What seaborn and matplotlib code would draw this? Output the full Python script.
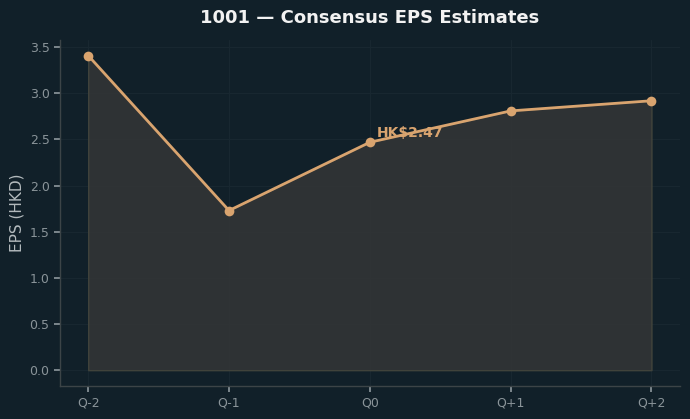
import matplotlib
matplotlib.use("Agg")
import matplotlib.pyplot as plt
import seaborn as sns
import pandas as pd

quarters = ["Q-2", "Q-1", "Q0", "Q+1", "Q+2"]
eps = [3.41, 1.73, 2.47, 2.81, 2.92]
title = "1001 — Consensus EPS Estimates"
ylabel = "EPS (HKD)"
current_label = "HK$2.47"

bg = "#112029"
line_c = "#d9a46f"

sns.set_theme(style="dark")
plt.rcParams['font.family'] = ['DejaVu Sans']

df = pd.DataFrame({"q": range(len(quarters)), "eps": eps})

fig = plt.figure(figsize=(6.9, 4.19), dpi=100, facecolor=bg)
ax = fig.add_axes([0.087, 0.079, 0.898, 0.826])
ax.set_facecolor(bg)

ax.fill_between(df["q"], df["eps"], 0, color="#343636", alpha=0.85,
                edgecolor="#45473d", linewidth=1.0)
sns.lineplot(data=df, x="q", y="eps", ax=ax, color=line_c, linewidth=2,
             marker="o", markersize=7, markeredgewidth=0)

ax.annotate(current_label, (2, eps[2]), xytext=(5, 4), textcoords="offset points",
            color=line_c, fontsize=10, fontweight="bold")

ax.set_xticks(range(len(quarters)))
ax.set_xticklabels(quarters)
ax.set_xlabel("")
ax.set_ylabel(ylabel, color="#b3babd", fontsize=11)
ax.set_title(title, color="#f2f2f2", fontsize=13, fontweight="bold", pad=12)
ax.margins(x=0.05, y=0.05)
ax.grid(True, color="#182730", linewidth=0.8)
ax.set_axisbelow(True)
ax.tick_params(colors="#8a9499", labelsize=9, length=4, left=True, bottom=True)
for s in ["top", "right"]:
    ax.spines[s].set_visible(False)
for s in ["left", "bottom"]:
    ax.spines[s].set_visible(True)
    ax.spines[s].set_color("#3c4447")
    ax.spines[s].set_linewidth(1)

fig.savefig("out.png", dpi=100, facecolor=bg)
